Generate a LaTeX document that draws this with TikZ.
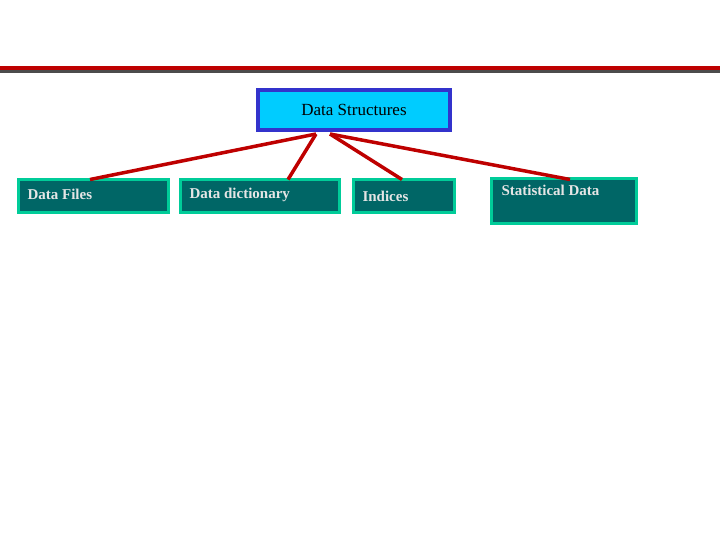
\documentclass[tikz,border=0pt]{standalone}
\usepackage{fontspec}
\setmainfont{Liberation Serif}
\definecolor{topfill}{RGB}{0,204,255}
\definecolor{topdraw}{RGB}{51,51,204}
\definecolor{leaffill}{RGB}{0,102,102}
\definecolor{leafdraw}{RGB}{0,204,153}
\definecolor{linkred}{RGB}{190,0,0}
\begin{document}
\begin{tikzpicture}[x=1pt,y=-1pt,
  topbox/.style={draw=topdraw,line width=4pt,fill=topfill,minimum width=192pt,minimum height=40pt,font=\fontsize{17}{19}\selectfont,text=black},
  leafbox/.style={draw=leafdraw,line width=3pt,fill=leaffill,text=white!90!black,font=\fontsize{15}{17}\selectfont\bfseries},
  link/.style={draw=linkred,line width=3.5pt}]
\useasboundingbox (0,0) rectangle (720,540);
\fill[black!70] (0,70) rectangle (720,73);
\fill[linkred] (0,66) rectangle (720,70);
\node[topbox] (top) at (354,110) {Data Structures};
\node[leafbox,minimum width=150pt,minimum height=33pt] (a) at (93,196.5) {};
\node[anchor=west,text=white!90!black,font=\fontsize{15}{17}\selectfont\bfseries] (at) at (24,194) {Data Files};
\node[leafbox,minimum width=159pt,minimum height=33pt] (b) at (259.5,196.5) {};
\node[anchor=west,text=white!90!black,font=\fontsize{15}{17}\selectfont\bfseries] (bt) at (186,195) {Data dictionary};
\node[leafbox,minimum width=101pt,minimum height=33pt] (c) at (403.5,196.5) {};
\node[anchor=west,text=white!90!black,font=\fontsize{15}{17}\selectfont\bfseries] (ct) at (359,196) {Indices};
\node[leafbox,minimum width=145pt,minimum height=45pt] (d) at (563.5,201.5) {};
\node[anchor=west,text=white!90!black,font=\fontsize{15}{17}\selectfont\bfseries] (dt) at (498,190) {Statistical Data};
\coordinate (s1) at (316,134);
\coordinate (s2) at (330,134);
\draw[link] (s1) -- (90,179.5);
\draw[link] (s1) -- (288,179.5);
\draw[link] (s2) -- (402,179.5);
\draw[link] (s2) -- (570,179.5);
\end{tikzpicture}
\end{document}
